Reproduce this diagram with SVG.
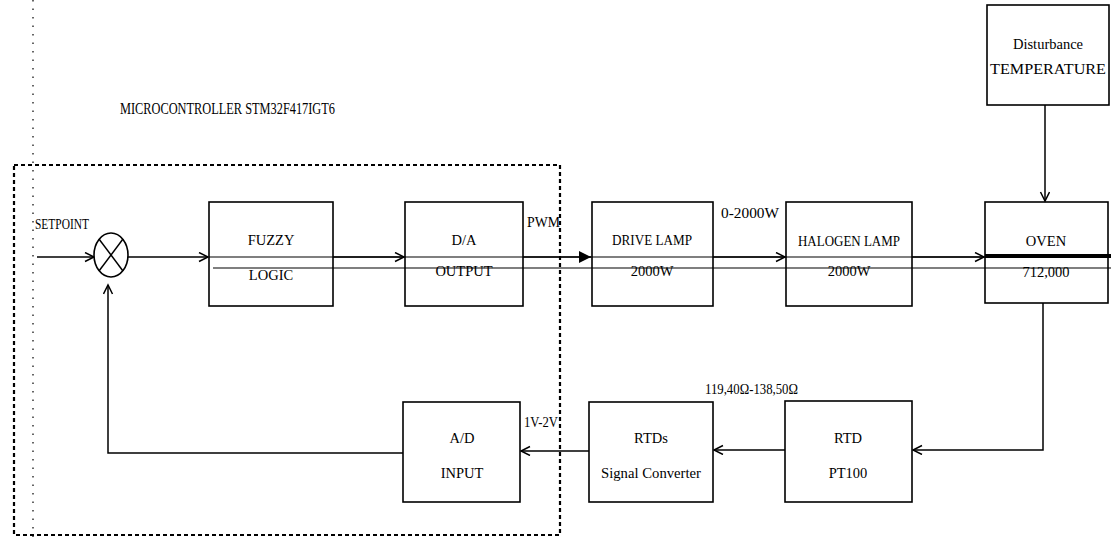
<svg xmlns="http://www.w3.org/2000/svg" width="1111" height="539" viewBox="0 0 1111 539">
  <style>
    .box { fill: #ffffff; stroke: #000000; stroke-width: 1.6; }
    .lbl { font-family: "Liberation Serif", "DejaVu Serif", serif; font-size: 14.5px; fill: #000000; text-anchor: middle; }
    .tag { font-family: "Liberation Serif", "DejaVu Serif", serif; font-size: 15.5px; fill: #000000; }
    .wire { fill: none; stroke: #000000; stroke-width: 1.5; }
    .thin { fill: none; stroke: #000000; stroke-width: 1.2; }
  </style>
  <defs>
    <marker id="open" markerUnits="userSpaceOnUse" markerWidth="12" markerHeight="12" refX="10" refY="5" orient="auto">
      <path d="M1,0.5 L10,5 L1,9.5" fill="none" stroke="#000000" stroke-width="1.5"/>
    </marker>
    <marker id="solid" markerUnits="userSpaceOnUse" markerWidth="14" markerHeight="14" refX="12" refY="6" orient="auto">
      <path d="M0,0 L12,6 L0,12 Z" fill="#000000"/>
    </marker>
  </defs>

  <rect width="1111" height="539" fill="#ffffff"/>

  <!-- faint dotted guide line along the left margin -->
  <line x1="33" y1="0" x2="33" y2="539" stroke="#000000" stroke-width="1.2" stroke-dasharray="1.5,7"/>

  <!-- microcontroller boundary -->
  <g id="mcu-boundary">
    <rect x="14" y="165" width="546" height="370" fill="none" stroke="#000000" stroke-width="2.2" stroke-dasharray="4,3"/>
    <text class="tag" x="120" y="114" style="font-size:17px" textLength="215" lengthAdjust="spacingAndGlyphs">MICROCONTROLLER STM32F417IGT6</text>
  </g>

  <!-- connectors -->
  <g id="connectors">
    <!-- signal rails running through the forward blocks -->
    <line class="thin" x1="209" y1="257" x2="1111" y2="257"/>
    <line class="thin" x1="213" y1="268" x2="1111" y2="268"/>
    <line x1="985" y1="256" x2="1111" y2="256" stroke="#000000" stroke-width="4"/>

    <line class="wire" x1="37" y1="257" x2="94" y2="257" marker-end="url(#open)"/>
    <line class="wire" x1="128" y1="257" x2="208" y2="257" marker-end="url(#open)"/>
    <line class="wire" x1="333" y1="257" x2="404" y2="257" marker-end="url(#open)"/>
    <line class="wire" x1="523" y1="257" x2="591" y2="257" marker-end="url(#solid)"/>
    <line class="wire" x1="713" y1="257" x2="785" y2="257" marker-end="url(#open)"/>
    <line class="wire" x1="912" y1="257" x2="984" y2="257" marker-end="url(#open)"/>

    <!-- disturbance into oven -->
    <line class="wire" x1="1045" y1="105" x2="1045" y2="201" marker-end="url(#open)"/>

    <!-- feedback path -->
    <polyline class="wire" points="1043,303 1043,450 913,450" marker-end="url(#open)"/>
    <line class="wire" x1="785" y1="450" x2="714" y2="450" marker-end="url(#open)"/>
    <line class="wire" x1="589" y1="451" x2="521" y2="451" marker-end="url(#open)"/>
    <polyline class="wire" points="403,453 108,453 108,285" marker-end="url(#open)"/>
  </g>

  <!-- summing junction -->
  <g id="sum">
    <ellipse cx="111" cy="255" rx="17" ry="22" fill="#ffffff" stroke="#000000" stroke-width="1.6"/>
    <line x1="99" y1="239" x2="123" y2="271" stroke="#000000" stroke-width="1.5"/>
    <line x1="123" y1="239" x2="99" y2="271" stroke="#000000" stroke-width="1.5"/>
    <text class="tag" x="35" y="229" textLength="54" lengthAdjust="spacingAndGlyphs">SETPOINT</text>
  </g>

  <g id="fuzzy">
    <rect class="box" x="209" y="202" width="124" height="104" style="fill:none"/>
    <text class="lbl" x="271" y="245">FUZZY</text>
    <text class="lbl" x="271" y="280">LOGIC</text>
  </g>

  <g id="da-output">
    <rect class="box" x="405" y="202" width="118" height="104" style="fill:none"/>
    <text class="lbl" x="464" y="245">D/A</text>
    <text class="lbl" x="464" y="276">OUTPUT</text>
    <text class="tag" x="527" y="227" textLength="33" lengthAdjust="spacingAndGlyphs">PWM</text>
  </g>

  <g id="drive-lamp">
    <rect class="box" x="592" y="202" width="121" height="104" style="fill:none"/>
    <text class="lbl" x="652" y="245" textLength="80" lengthAdjust="spacingAndGlyphs">DRIVE LAMP</text>
    <text class="lbl" x="652" y="276">2000W</text>
    <text class="tag" x="721" y="218" textLength="58" lengthAdjust="spacingAndGlyphs">0-2000W</text>
  </g>

  <g id="halogen-lamp">
    <rect class="box" x="786" y="202" width="126" height="104" style="fill:none"/>
    <text class="lbl" x="849" y="246" textLength="102" lengthAdjust="spacingAndGlyphs">HALOGEN LAMP</text>
    <text class="lbl" x="849" y="276">2000W</text>
  </g>

  <g id="oven">
    <rect class="box" x="985" y="202" width="123" height="101" style="fill:none"/>
    <text class="lbl" x="1046" y="246">OVEN</text>
    <text class="lbl" x="1046" y="277">712,000</text>
  </g>

  <g id="disturbance">
    <rect class="box" x="987" y="5" width="122" height="100"/>
    <text class="lbl" x="1048" y="49">Disturbance</text>
    <text class="lbl" x="1048" y="74" textLength="116" lengthAdjust="spacingAndGlyphs">TEMPERATURE</text>
  </g>

  <g id="ad-input">
    <rect class="box" x="403" y="402" width="117" height="100"/>
    <text class="lbl" x="462" y="443">A/D</text>
    <text class="lbl" x="462" y="478">INPUT</text>
    <text class="tag" x="524" y="427" textLength="34" lengthAdjust="spacingAndGlyphs">1V-2V</text>
  </g>

  <g id="rtd-converter">
    <rect class="box" x="589" y="402" width="124" height="100"/>
    <text class="lbl" x="651" y="443">RTDs</text>
    <text class="lbl" x="651" y="478" textLength="100" lengthAdjust="spacingAndGlyphs">Signal Converter</text>
  </g>

  <g id="rtd-pt100">
    <rect class="box" x="785" y="401" width="127" height="101"/>
    <text class="lbl" x="848" y="443">RTD</text>
    <text class="lbl" x="848" y="478">PT100</text>
    <text class="tag" x="705" y="394" textLength="93" lengthAdjust="spacingAndGlyphs">119,40Ω-138,50Ω</text>
  </g>
</svg>
